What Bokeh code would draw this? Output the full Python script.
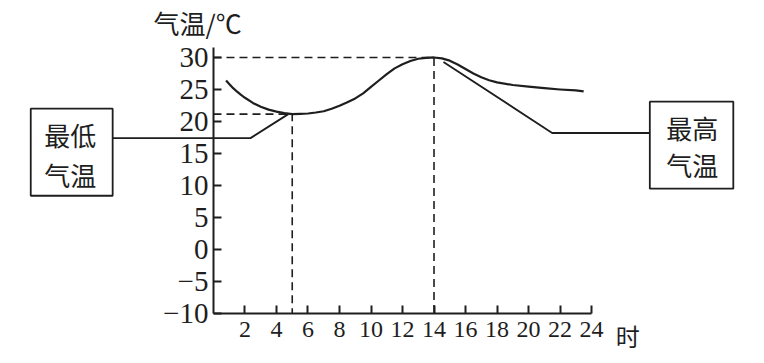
import numpy as np
from bokeh.plotting import figure
from bokeh.models import LinearAxis, FixedTicker, Range1d
from bokeh.core.properties import value
from bokeh.embed import file_html
from bokeh.resources import INLINE

# ---- data ----
hours = [0.8, 1.0, 1.25, 1.5, 1.75, 2.0, 2.5, 3.0, 3.5, 4.0, 4.5, 5.0, 5.5, 6.0, 6.5, 7.0, 7.5,
         8.0, 8.5, 9.0, 9.5, 10.0, 10.5, 11.0, 11.5, 12.0, 12.5, 13.0, 13.5, 14.0,
         14.5, 15.0, 15.5, 16.0, 16.5, 17.0, 17.5, 18.0, 19.0, 20.0, 21.0, 22.0,
         23.0, 23.5]
temps = [26.4, 25.85, 25.2, 24.65, 24.15, 23.7, 22.9, 22.3, 21.85, 21.55, 21.3, 21.15, 21.2, 21.25,
         21.4, 21.6, 22.0, 22.45, 23.0, 23.6, 24.4, 25.4, 26.4, 27.4, 28.3, 28.95,
         29.45, 29.8, 29.95, 30.0, 29.85, 29.5, 28.9, 28.2, 27.5, 26.9, 26.45, 26.1,
         25.7, 25.45, 25.2, 25.0, 24.85, 24.7]
x_ticks = [2, 4, 6, 8, 10, 12, 14, 16, 18, 20, 22, 24]
y_ticks = [-10, -5, 0, 5, 10, 15, 20, 25, 30]
y_tick_labels = ["−10", "−5", "0", "5", "10", "15", "20", "25", "30"]
y_title = "气温/℃"
x_title = "时"
min_label = ["最低", "气温"]
max_label = ["最高", "气温"]

INK = "#1e1e1e"
NUM_FONT = "'Liberation Serif', 'DejaVu Serif', serif"
CJK_FONT = "Noto Sans CJK SC"

p = figure(width=764, height=363, title=None,
           x_range=Range1d(-13.52, 34.98), y_range=Range1d(-17.81, 38.9),
           x_axis_type=None, y_axis_type=None,
           output_backend="svg", toolbar_location=None, min_border=0)
p.outline_line_color = None
p.background_fill_color = "white"
p.border_fill_color = "white"

x0, x1 = 0, 24
y0 = y_ticks[0]

xaxis = LinearAxis(fixed_location=y0, ticker=FixedTicker(ticks=x_ticks), bounds=(x0, x1),
                   major_tick_in=8, major_tick_out=0, minor_tick_line_color=None,
                   axis_line_width=2, axis_line_color=INK, major_tick_line_width=2,
                   major_tick_line_color=INK, major_label_text_font=NUM_FONT,
                   major_label_text_font_size="24px", major_label_text_color=INK,
                   major_label_standoff=8)
p.add_layout(xaxis, "below")

yaxis = LinearAxis(fixed_location=x0, ticker=FixedTicker(ticks=y_ticks), bounds=(y0, 31.6),
                   major_tick_in=8, major_tick_out=0, minor_tick_line_color=None,
                   axis_line_width=2, axis_line_color=INK, major_tick_line_width=2,
                   major_tick_line_color=INK, major_label_text_font=NUM_FONT,
                   major_label_text_font_size="29px", major_label_text_color=INK,
                   major_label_standoff=5,
                   major_label_overrides={t: s for t, s in zip(y_ticks, y_tick_labels)})
p.add_layout(yaxis, "left")

# curve
p.line(hours, temps, line_color=INK, line_width=2.2, line_join="round")

h = np.array(hours)
t = np.array(temps)
i_min, i_max = int(np.argmin(t)), int(np.argmax(t))
min_h, min_t = h[i_min], t[i_min]
max_h, max_t = h[i_max], t[i_max]

# dashed guide lines
p.line([x0, min_h, min_h], [min_t, min_t, y0], line_color=INK, line_width=1.6, line_dash="8 5")
p.line([x0, max_h, max_h], [max_t, max_t, y0], line_color=INK, line_width=1.6, line_dash="8 5")

# label boxes
p.quad(left=[-11.6, 27.7], right=[-6.4, 33.0], bottom=[8.4, 9.5], top=[22.0, 23.1],
       fill_color="white", line_color=INK, line_width=1.8)

# leader lines
p.line([-6.4, 2.35, min_h - 0.25], [17.4, 17.4, min_t], line_color=INK, line_width=1.8)
p.line([max_h + 0.6, 21.5, 27.7], [max_t - 0.7, 18.2, 18.2], line_color=INK, line_width=1.8)

# box texts
p.text(x=[-9.1, -9.1], y=[17.97, 11.64], text=min_label, text_font=value(CJK_FONT),
       text_font_size="26px", text_align="center", text_baseline="middle", text_color=INK)
p.text(x=[30.4, 30.4], y=[19.06, 13.3], text=max_label, text_font=value(CJK_FONT),
       text_font_size="26px", text_align="center", text_baseline="middle", text_color=INK)

# axis titles
p.text(x=[-3.8], y=[35.5], text=[y_title], text_font=value(CJK_FONT),
       text_font_size="26px", text_align="left", text_baseline="middle", text_color=INK)
p.text(x=[26.3], y=[-13.4], text=[x_title], text_font=value(CJK_FONT),
       text_font_size="24px", text_align="center", text_baseline="middle", text_color=INK)

open("out.html", "w").write(file_html(p, INLINE))
